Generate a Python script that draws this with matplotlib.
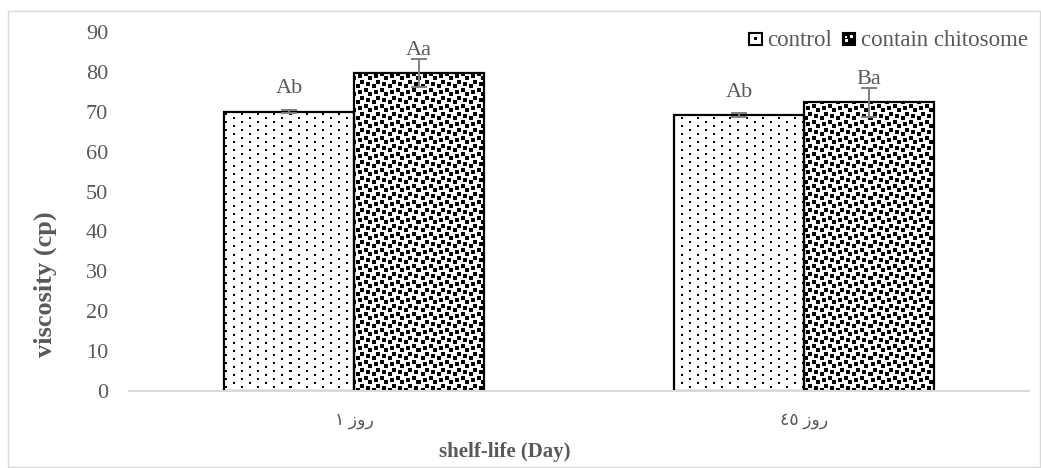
"""Viscosity of samples over shelf life: control vs. chitosome, grouped bars."""
import matplotlib

matplotlib.use('Agg')
import matplotlib.pyplot as plt
import numpy as np
from matplotlib.legend_handler import HandlerBase
from matplotlib.patches import Rectangle

categories = ['روز ١', 'روز ٤٥']
series = ['control', 'contain chitosome']
control = [70.0, 69.2]
control_err = [0.4, 0.4]
chitosome = [79.7, 72.4]
chitosome_err = [3.6, 3.6]
control_labels = ['Ab', 'Ab']
chitosome_labels = ['Aa', 'Ba']

GRAY = '#595959'
SERIF = ['Liberation Serif', 'DejaVu Sans']

# 8x8 fill bitmaps (1 = ink): a sparse "10%" dot and a "large confetti"
DOTS = [0x80, 0x00, 0x08, 0x00, 0x80, 0x00, 0x08, 0x00]
CONFETTI = [0x8d, 0x0c, 0xc0, 0xd8, 0x1b, 0x03, 0x30, 0xb1]


def tile(rows, scale=2):
    bits = np.array([[(r >> (7 - c)) & 1 for c in range(8)] for r in rows])
    return np.kron(bits, np.ones((scale, scale), dtype=int))


def visual_rtl(text):
    # matplotlib has no bidi support: lay the words out right-to-left by hand.
    # The letters used here never join, so reversing them is enough.
    words = text.split(' ')
    out = [w if w.isdigit() else w[::-1] for w in reversed(words)]
    return ' '.join(out)


def fill_pattern(ax, bar, pattern):
    # paint the bitmap pixel-for-pixel inside the bar
    x0, y0 = bar.get_x(), 0
    x1, y1 = x0 + bar.get_width(), bar.get_height()
    (px0, py0), (px1, py1) = ax.transData.transform([(x0, y0), (x1, y1)])
    w, h = int(round(px1 - px0)), int(round(py1 - py0))
    t = tile(pattern)
    ny, nx = h // t.shape[0] + 2, w // t.shape[1] + 2
    big = np.tile(t, (ny, nx))
    ox, oy = int(px0) % t.shape[1], int(py0) % t.shape[0]
    img = 1 - big[oy:oy + h, ox:ox + w]
    im = ax.imshow(img[::-1], extent=(x0, x1, y0, y1), cmap='gray', vmin=0, vmax=1,
                   interpolation='nearest', aspect='auto', zorder=1.5)
    im.set_clip_path(bar)


class SwatchHandler(HandlerBase):
    def __init__(self, face, spots):
        super().__init__()
        self.face, self.spots = face, spots

    def create_artists(self, legend, orig_handle, xdescent, ydescent, width, height,
                       fontsize, trans):
        s = min(width, height)
        x0, y0 = -xdescent + (width - s) / 2, -ydescent
        arts = [Rectangle((x0, y0), s, s, facecolor=self.face, edgecolor='black',
                          linewidth=1.5, transform=trans)]
        for fx, fy, fw, fh, c in self.spots:
            arts.append(Rectangle((x0 + fx * s, y0 + fy * s), fw * s, fh * s,
                                  facecolor=c, edgecolor='none', transform=trans))
        return arts


plt.rcParams['font.family'] = SERIF

fig = plt.figure(figsize=(10.41, 4.68), dpi=100)
ax = fig.add_axes([129 / 1041, 77 / 468, 900 / 1041, 359 / 468])
ax.set_xlim(-0.5, len(categories) - 0.5)
ax.set_ylim(0, 90)
ax.set_autoscale_on(False)

x = np.arange(len(categories))
w = 0.289

b1 = ax.bar(x - w / 2, control, w, facecolor='none', edgecolor='black',
            linewidth=1.6, label=series[0], zorder=2)
b2 = ax.bar(x + w / 2, chitosome, w, facecolor='none', edgecolor='black',
            linewidth=1.6, label=series[1], zorder=2)
for p in b1:
    fill_pattern(ax, p, DOTS)
for p in b2:
    fill_pattern(ax, p, CONFETTI)

ax.errorbar(x - w / 2, control, yerr=control_err, fmt='none', ecolor='#7f7f7f',
            elinewidth=1.4, capsize=6, capthick=1.4, zorder=3)
ax.errorbar(x + w / 2, chitosome, yerr=chitosome_err, fmt='none', ecolor='#7f7f7f',
            elinewidth=1.4, capsize=6, capthick=1.4, zorder=3)

# significance letters sit a fixed distance above each bar top
for xs, vals, labs in ((x - w / 2, control, control_labels),
                       (x + w / 2, chitosome, chitosome_labels)):
    for xi, v, lab in zip(xs, vals, labs):
        ax.annotate(lab, (xi, v), xytext=(0, 16.5), textcoords='offset points',
                    ha='center', va='center', fontsize=16, color=GRAY)

ax.set_yticks(range(0, 91, 10))
ax.set_xticks(x)
ax.set_xticklabels([visual_rtl(c) for c in categories])

for side in ('top', 'right', 'left'):
    ax.spines[side].set_visible(False)
ax.spines['bottom'].set_color('#d9d9d9')
ax.spines['bottom'].set_linewidth(1.5)
ax.tick_params(axis='y', length=0, pad=15, labelsize=16, labelcolor=GRAY)
ax.tick_params(axis='x', length=0, pad=16, labelsize=12.5, labelcolor=GRAY)

ax.set_ylabel('viscosity (cp)', fontsize=19, fontweight='bold', color=GRAY)
ax.yaxis.set_label_coords(-0.093, 0.298)
ax.yaxis.label.set_va('center')
ax.set_xlabel('shelf-life (Day)', fontsize=15, fontweight='bold', color=GRAY)
ax.xaxis.set_label_coords(0.418, -0.170)
ax.xaxis.label.set_va('center')

h1 = Rectangle((0, 0), 1, 1)
h2 = Rectangle((0, 0), 1, 1)
leg = ax.legend([h1, h2], series, loc='upper right', bbox_to_anchor=(1.009, 1.03),
                ncol=2, frameon=False, fontsize=16.5, handlelength=0.55, handleheight=0.55,
                handletextpad=0.25, columnspacing=0.45, borderaxespad=0,
                handler_map={h1: SwatchHandler('white', [(0.38, 0.38, 0.24, 0.24, 'black')]),
                             h2: SwatchHandler('black', [(0.2, 0.25, 0.25, 0.22, 'white'),
                                                         (0.55, 0.55, 0.25, 0.22, 'white'),
                                                         (0.2, 0.6, 0.15, 0.15, 'white')])})
for t in leg.get_texts():
    t.set_color(GRAY)

fig.patches.append(Rectangle((8 / 1041, 1 / 468), 1032 / 1041, 456 / 468,
                             transform=fig.transFigure, fill=False,
                             edgecolor='#d9d9d9', linewidth=1))

fig.savefig('out.png', dpi=100)
